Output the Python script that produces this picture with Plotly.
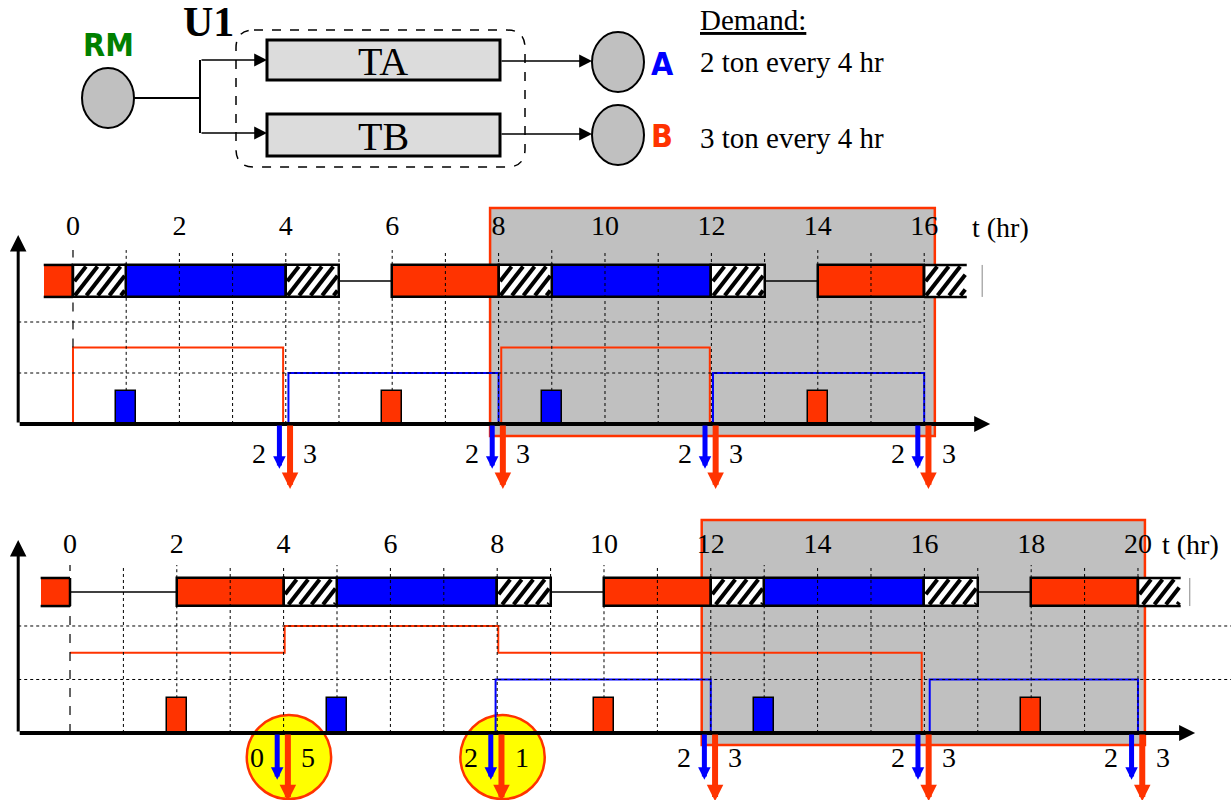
import plotly.graph_objects as go

RED = "#ff3300"
BLUE = "#0000ff"
SHADE = "#c0c0c0"
BOXFILL = "#dcdcdc"
YELLOW = "#ffff00"
GREEN = "#008000"
SERIF = "Liberation Serif, Times New Roman, serif"
NARROW = "Liberation Sans Narrow, DejaVu Sans Condensed, Arial Narrow, Liberation Sans, sans-serif"

# ---------------- data ----------------
TOP_TICKS = [0, 2, 4, 6, 8, 10, 12, 14, 16]
BOT_TICKS = [0, 2, 4, 6, 8, 10, 12, 14, 16, 18, 20]

# Gantt tasks (A = product A, B = product B, C = changeover)
TOP_TASK_START = [-0.55, 0, 1, 4, 6, 8, 9, 12, 14, 16]
TOP_TASK_END = [0, 1, 4, 5, 8, 9, 12, 13, 16, 16.8]
TOP_TASK_KIND = ["B", "C", "A", "C", "B", "C", "A", "C", "B", "C"]
TOP_IDLE_START = [5, 13]
TOP_IDLE_END = [6, 14]

BOT_TASK_START = [-0.55, 2, 4, 5, 8, 10, 12, 13, 16, 18, 20]
BOT_TASK_END = [0, 4, 5, 8, 9, 12, 13, 16, 17, 20, 20.8]
BOT_TASK_KIND = ["B", "B", "C", "A", "C", "B", "C", "A", "C", "B", "C"]
BOT_IDLE_START = [0, 9, 17]
BOT_IDLE_END = [2, 10, 18]

# raw-material feed events (small bars)
TOP_FEED_A = [1, 9]
TOP_FEED_B = [6, 14]
BOT_FEED_A = [5, 13]
BOT_FEED_B = [2, 10, 18]
FEED_LEVEL = 1.3

# inventory profiles (ton)
TOP_INV_A_T = [4.05, 4.05, 8.0, 8.0, None, 12.03, 12.03, 16.0, 16.0]
TOP_INV_A_Q = [0, 2, 2, 0, None, 0, 2, 2, 0]
TOP_INV_B_T = [0, 0, 3.95, 3.95, None, 8.05, 8.05, 11.97, 11.97]
TOP_INV_B_Q = [0, 3, 3, 0, None, 0, 3, 3, 0]

BOT_INV_A_T = [7.97, 7.97, 12.0, 12.0, None, 16.1, 16.1, 20.0, 20.0]
BOT_INV_A_Q = [0, 2, 2, 0, None, 0, 2, 2, 0]
BOT_INV_B_T = [0, 4.02, 4.02, 8.02, 8.02, 15.95, 15.95]
BOT_INV_B_Q = [3, 3, 4, 4, 3, 3, 0]

# demand deliveries
TOP_DUE = [4, 8, 12, 16]
TOP_DEM_A = [2, 2, 2, 2]
TOP_DEM_B = [3, 3, 3, 3]
BOT_DUE = [4, 8, 12, 16, 20]
BOT_DEM_A = [0, 2, 2, 2, 2]
BOT_DEM_B = [5, 1, 3, 3, 3]
BOT_CIRCLED = [True, True, False, False, False]

# highlighted cyclic windows (hr)
TOP_WINDOW = [7.84, 16.2]
BOT_WINDOW = [11.83, 20.13]

# axis ranges (plot geometry)
TOP_XR = [-1.372, 21.767]
TOP_YR = [-2.98, 8.784]
BOT_XR = [-1.311, 21.742]
BOT_YR = [-2.505, 8.71]
FIG_W, FIG_H, PANEL_H = 1231, 800, 300

fig = go.Figure()
shapes = []
anns = []
LBL_SIZE = 28


def hatch_lines(s, e, y0, y1, kx, ky, period=11.5, cot=0.78, inset=1.5):
    """diagonal hatch segments inside [s,e]x[y0,y1], computed in pixel space"""
    W = (e - s) * kx - 2 * inset
    H = (y1 - y0) * ky - 2 * inset
    xs, ys = [], []
    d = -H * cot
    while d < W:
        lo = max(0.0, -d / cot)
        hi = min(H, (W - d) / cot)
        if hi > lo:
            for Y in (lo, hi):
                X = d + Y * cot
                xs.append(s + (X + inset) / kx)
                ys.append(y0 + (Y + inset) / ky)
            xs.append(None)
            ys.append(None)
        d += period
    return xs, ys


def timeline(xa, ya, xr, yr, ts, te, kind, idle_s, idle_e, bar_c, bar_h,
             feedA, feedB, iaT, iaQ, ibT, ibQ, due, demA, demB, circled,
             window, win_lo, win_hi, grid_top, tmax, axis_tip_x, axis_tip_y,
             axis_left, end_mark, dash_bottom, lbl_y, hlines_to):
    kx = FIG_W / (xr[1] - xr[0])
    ky = PANEL_H / (yr[1] - yr[0])
    n = len(ts)
    yb, yt = bar_c - bar_h / 2, bar_c + bar_h / 2
    # shaded window
    shapes.append(dict(type="rect", xref=xa, yref=ya, x0=window[0], x1=window[1],
                       y0=win_lo, y1=win_hi, fillcolor=SHADE,
                       line=dict(color=RED, width=2.5), layer="below"))
    # circles
    for t, c in zip(due, circled):
        if c:
            shapes.append(dict(type="circle", xref=xa, yref=ya, x0=t + 0.1 - 0.79,
                               x1=t + 0.1 + 0.79, y0=lbl_y - 1.57, y1=lbl_y + 1.57,
                               fillcolor=YELLOW, line=dict(color=RED, width=2.5),
                               layer="below"))
    # task bars (first and last are cut off by the window: open ends)
    for k, col in [("A", BLUE), ("B", RED), ("C", "white")]:
        idx = [i for i in range(n) if kind[i] == k]
        lw = [0 if i in (0, n - 1) else 2.5 for i in idx]
        fig.add_trace(go.Bar(orientation="h", base=[ts[i] for i in idx],
                             x=[te[i] - ts[i] for i in idx], y=[bar_c] * len(idx),
                             width=bar_h,
                             marker=dict(color=col, line=dict(color="black", width=lw)),
                             xaxis=xa, yaxis=ya, showlegend=False, hoverinfo="skip"))
    # hatching of changeovers
    hx, hy = [], []
    for i in range(n):
        if kind[i] == "C":
            a, b = hatch_lines(ts[i], te[i], yb, yt, kx, ky)
            hx += a
            hy += b
    fig.add_trace(go.Scatter(x=hx, y=hy, mode="lines", line=dict(color="black", width=4),
                             xaxis=xa, yaxis=ya, showlegend=False, hoverinfo="skip"))
    # borders of the open-ended bars
    ox = [ts[0], te[0], None, ts[0], te[0], None, te[0], te[0], None,
          ts[-1], te[-1], None, ts[-1], te[-1], None, ts[-1], ts[-1]]
    oy = [yt, yt, None, yb, yb, None, yb, yt, None,
          yt, yt, None, yb, yb, None, yb, yt]
    fig.add_trace(go.Scatter(x=ox, y=oy, mode="lines", line=dict(color="black", width=2.5),
                             xaxis=xa, yaxis=ya, showlegend=False, hoverinfo="skip"))
    # idle connectors
    xs, ys = [], []
    for s, e in zip(idle_s, idle_e):
        xs += [s, e, None]
        ys += [bar_c, bar_c, None]
    fig.add_trace(go.Scatter(x=xs, y=ys, mode="lines", line=dict(color="black", width=1.5),
                             xaxis=xa, yaxis=ya, showlegend=False, hoverinfo="skip"))
    # feed bars
    for ft, col in [(feedA, BLUE), (feedB, RED)]:
        fig.add_trace(go.Bar(x=ft, y=[FEED_LEVEL] * len(ft), base=0, width=0.37,
                             marker=dict(color=col, line=dict(color="black", width=1.5)),
                             xaxis=xa, yaxis=ya, showlegend=False, hoverinfo="skip"))
    # inventory
    fig.add_trace(go.Scatter(x=ibT, y=ibQ, mode="lines", line=dict(color=RED, width=2),
                             xaxis=xa, yaxis=ya, showlegend=False, hoverinfo="skip"))
    fig.add_trace(go.Scatter(x=iaT, y=iaQ, mode="lines", line=dict(color=BLUE, width=2),
                             xaxis=xa, yaxis=ya, showlegend=False, hoverinfo="skip"))
    # grid (vertical lines stop on top of feed bars)
    feeds = set(feedA) | set(feedB)
    for h in range(1, int(tmax) + 1):
        y0 = FEED_LEVEL if h in feeds else 0
        shapes.append(dict(type="line", xref=xa, yref=ya, x0=h, x1=h, y0=y0, y1=grid_top,
                           line=dict(color="black", width=1, dash="dot"), layer="above"))
    for lv in [2, 4]:
        shapes.append(dict(type="line", xref=xa, yref=ya, x0=axis_left, x1=hlines_to,
                           y0=lv, y1=lv, line=dict(color="black", width=1, dash="dot"),
                           layer="above"))
    shapes.append(dict(type="line", xref=xa, yref=ya, x0=0, x1=0, y0=dash_bottom,
                       y1=grid_top, line=dict(color="black", width=1.2, dash="dash"),
                       layer="above"))
    shapes.append(dict(type="line", xref=xa, yref=ya, x0=end_mark, x1=end_mark,
                       y0=yb, y1=yt, line=dict(color="#888888", width=1), layer="above"))
    # axes with arrows
    anns.append(dict(x=axis_tip_x, y=0, ax=axis_left, ay=0, xref=xa, yref=ya,
                     axref=xa, ayref=ya, text="", showarrow=True, arrowhead=2,
                     arrowwidth=4, arrowsize=0.8, arrowcolor="black",
                     standoff=0, startstandoff=0))
    anns.append(dict(x=axis_left, y=axis_tip_y, ax=axis_left, ay=0, xref=xa, yref=ya,
                     axref=xa, ayref=ya, text="", showarrow=True, arrowhead=2,
                     arrowwidth=3, arrowsize=1.1, arrowcolor="black",
                     standoff=0, startstandoff=0))
    # demand arrows
    for t, a, b in zip(due, demA, demB):
        anns.append(dict(x=t - 0.12, y=-1.75, ax=t - 0.12, ay=0, xref=xa, yref=ya,
                         axref=xa, ayref=ya, text="", showarrow=True, arrowhead=2,
                         arrowwidth=5, arrowsize=0.5, arrowcolor=BLUE,
                         standoff=0, startstandoff=0))
        anns.append(dict(x=t + 0.08, y=-2.55, ax=t + 0.08, ay=0, xref=xa, yref=ya,
                         axref=xa, ayref=ya, text="", showarrow=True, arrowhead=2,
                         arrowwidth=6, arrowsize=0.55, arrowcolor=RED,
                         standoff=0, startstandoff=0))
        anns.append(dict(x=t - 0.5, y=lbl_y, xref=xa, yref=ya, text=str(a),
                         showarrow=False,
                         font=dict(family=SERIF, size=LBL_SIZE, color="black")))
        anns.append(dict(x=t + 0.46, y=lbl_y, xref=xa, yref=ya, text=str(b),
                         showarrow=False,
                         font=dict(family=SERIF, size=LBL_SIZE, color="black")))


timeline("x", "y", TOP_XR, TOP_YR, TOP_TASK_START, TOP_TASK_END, TOP_TASK_KIND,
         TOP_IDLE_START, TOP_IDLE_END, 5.61, 1.255, TOP_FEED_A, TOP_FEED_B,
         TOP_INV_A_T, TOP_INV_A_Q, TOP_INV_B_T, TOP_INV_B_Q, TOP_DUE, TOP_DEM_A,
         TOP_DEM_B, [False] * 4, TOP_WINDOW, -0.47, 8.47, 6.82, 16, 17.24, 7.41,
         -1.03, 17.09, 3.0, -1.14, 16.0)

timeline("x2", "y2", BOT_XR, BOT_YR, BOT_TASK_START, BOT_TASK_END, BOT_TASK_KIND,
         BOT_IDLE_START, BOT_IDLE_END, 5.27, 1.05, BOT_FEED_A, BOT_FEED_B,
         BOT_INV_A_T, BOT_INV_A_Q, BOT_INV_B_T, BOT_INV_B_Q, BOT_DUE, BOT_DEM_A,
         BOT_DEM_B, BOT_CIRCLED, BOT_WINDOW, -0.45, 7.96, 6.28, 20, 21.07, 7.21,
         -0.97, 20.97, 0.0, -0.9, 21.8)

anns.append(dict(x=16.86, y=7.7, xref="x", yref="y", text="t (hr)", showarrow=False,
                 xanchor="left", font=dict(family=SERIF, size=LBL_SIZE, color="black")))
anns.append(dict(x=20.42, y=7.03, xref="x2", yref="y2", text="t (hr)", showarrow=False,
                 xanchor="left", font=dict(family=SERIF, size=LBL_SIZE, color="black")))

# ---------------- process diagram (schematic, pixel-like units) ----------------
D = dict(xref="x3", yref="y3")
shapes += [
    dict(type="circle", x0=82, x1=134, y0=68, y1=128, fillcolor=SHADE,
         line=dict(color="black", width=2), **D),
    dict(type="line", x0=134, x1=200, y0=98, y1=98, line=dict(color="black", width=2), **D),
    dict(type="line", x0=200, x1=200, y0=60, y1=133, line=dict(color="black", width=2), **D),
    dict(type="rect", x0=267, x1=500, y0=40, y1=80, fillcolor=BOXFILL,
         line=dict(color="black", width=3), **D),
    dict(type="rect", x0=267, x1=500, y0=114, y1=156, fillcolor=BOXFILL,
         line=dict(color="black", width=3), **D),
    dict(type="path",
         path="M 254,30 L 507,30 Q 525,30 525,48 L 525,149 Q 525,167 507,167 "
              "L 254,167 Q 236,167 236,149 L 236,48 Q 236,30 254,30 Z",
         line=dict(color="black", width=1.5, dash="dash"), **D),
    dict(type="circle", x0=592, x1=644, y0=32, y1=92, fillcolor=SHADE,
         line=dict(color="black", width=2), **D),
    dict(type="circle", x0=592, x1=644, y0=105, y1=165, fillcolor=SHADE,
         line=dict(color="black", width=2), **D),
]
for (x0, y0, x1, y1) in [(200, 60, 267, 60), (200, 133, 267, 133),
                         (500, 61, 592, 61), (500, 134, 592, 134)]:
    anns.append(dict(x=x1, y=y1, ax=x0, ay=y0, axref="x3", ayref="y3", text="",
                     showarrow=True, arrowhead=2, arrowwidth=1.6, arrowsize=1.6,
                     arrowcolor="black", standoff=0, startstandoff=0, **D))

anns += [
    dict(x=108, y=45, text="<b>RM</b>", showarrow=False,
         font=dict(family=NARROW, size=32, color=GREEN), **D),
    dict(x=208, y=22, text="<b>U1</b>", showarrow=False,
         font=dict(family=SERIF, size=42, color="black"), **D),
    dict(x=383, y=61, text="TA", showarrow=False,
         font=dict(family=SERIF, size=40, color="black"), **D),
    dict(x=383, y=136, text="TB", showarrow=False,
         font=dict(family=SERIF, size=40, color="black"), **D),
    dict(x=662, y=64, text="<b>A</b>", showarrow=False,
         font=dict(family=NARROW, size=32, color=BLUE), **D),
    dict(x=662, y=136, text="<b>B</b>", showarrow=False,
         font=dict(family=NARROW, size=32, color=RED), **D),
    dict(x=698, y=20, text="<u>Demand:</u>", showarrow=False, xanchor="left",
         font=dict(family=SERIF, size=29, color="black"), **D),
    dict(x=698, y=62, text="2 ton every 4 hr", showarrow=False, xanchor="left",
         font=dict(family=SERIF, size=29, color="black"), **D),
    dict(x=698, y=138, text="3 ton every 4 hr", showarrow=False, xanchor="left",
         font=dict(family=SERIF, size=29, color="black"), **D),
]

tickfont = dict(family=SERIF, size=LBL_SIZE, color="black")
fig.update_layout(
    width=FIG_W, height=FIG_H, autosize=False,
    margin=dict(l=0, r=0, t=0, b=0),
    paper_bgcolor="white", plot_bgcolor="rgba(0,0,0,0)",
    barmode="overlay", bargap=0, showlegend=False,
    shapes=shapes, annotations=anns,
    xaxis=dict(domain=[0, 1], range=TOP_XR, anchor="y", side="top",
               tickmode="array", tickvals=TOP_TICKS, ticktext=[str(v) for v in TOP_TICKS],
               ticklabelposition="inside", ticklabelstandoff=12, ticks="",
               showgrid=False, zeroline=False,
               showline=False, tickfont=tickfont, fixedrange=True),
    yaxis=dict(domain=[0.375, 0.75], range=TOP_YR, visible=False, fixedrange=True),
    xaxis2=dict(domain=[0, 1], range=BOT_XR, anchor="y2", side="top",
                tickmode="array", tickvals=BOT_TICKS, ticktext=[str(v) for v in BOT_TICKS],
                ticklabelposition="inside", ticklabelstandoff=30, ticks="",
                showgrid=False, zeroline=False,
                showline=False, tickfont=tickfont, fixedrange=True),
    yaxis2=dict(domain=[0, 0.375], range=BOT_YR, visible=False, fixedrange=True),
    xaxis3=dict(domain=[0, 1], range=[0, 1231], anchor="y3", visible=False, fixedrange=True),
    yaxis3=dict(domain=[0.75, 1], range=[200, 0], visible=False, fixedrange=True),
)

fig.write_html("out.html", config={"displayModeBar": False},
               post_script="document.body.style.margin='0';document.body.style.overflow='hidden';")
